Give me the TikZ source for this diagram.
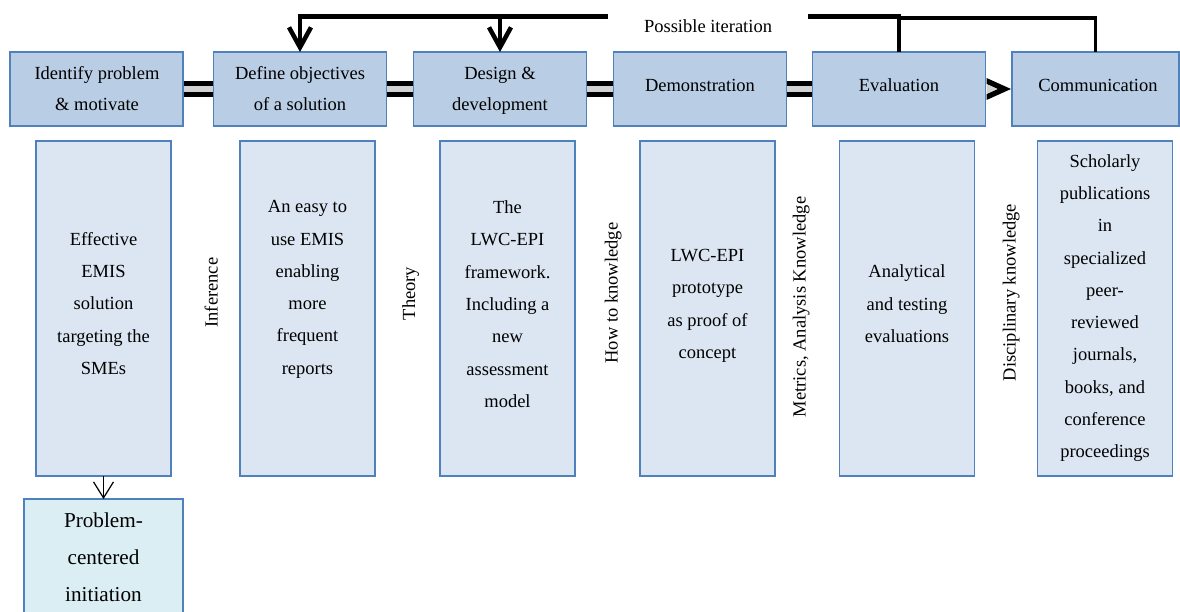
\documentclass[tikz,border=0pt]{standalone}
\usepackage{fontspec}
\setmainfont{Liberation Serif}
\usetikzlibrary{arrows.meta,calc}
\definecolor{edgeblue}{HTML}{4F81BD}
\definecolor{stagefill}{HTML}{B9CDE5}
\definecolor{outfill}{HTML}{DCE6F2}
\definecolor{startfill}{HTML}{DBEEF4}
\definecolor{railgray}{HTML}{D2D2D2}

\begin{document}
\begin{tikzpicture}[x=1pt,y=-1pt,
  stage/.style={draw=edgeblue, line width=1.8pt, fill=stagefill, minimum width=173pt,
    minimum height=74pt, inner sep=0pt, outer sep=0pt},
  outbox/.style={draw=edgeblue, line width=1.8pt, fill=outfill, minimum width=135pt,
    minimum height=335pt, inner sep=0pt, outer sep=0pt},
  entrybox/.style={draw=edgeblue, line width=1.8pt, fill=startfill, minimum width=159pt,
    minimum height=130pt, inner sep=0pt, outer sep=0pt},
  stagetext/.style={font=\fontsize{18.5}{31}\selectfont, align=center, inner sep=0pt},
  outtext/.style={font=\fontsize{18.5}{32.3}\selectfont, align=center, inner sep=0pt},
  entrytext/.style={font=\fontsize{21.2}{37}\selectfont, align=center, inner sep=0pt},
  sidetext/.style={font=\fontsize{18.5}{22}\selectfont, rotate=90, inner sep=0pt, anchor=base},
  rail/.style={draw=black, line width=5pt, double=railgray, double distance=6.3pt},
  iterthick/.style={draw=black, line width=4.5pt},
  iterthin/.style={draw=black, line width=3.5pt},
  iterarrow/.style={iterthick, -{Straight Barb[length=20pt,width=22pt]}},
  feed/.style={draw=black, line width=1.2pt, -{Straight Barb[length=16pt,width=20pt]}},
]
\useasboundingbox (0,0) rectangle (1180,612);
\clip (0,0) rectangle (1180,612);

% process stages
\node[stage] (t1) at (96.5,89) {};
\node[stage] (t2) at (300,89) {};
\node[stage] (t3) at (500,89) {};
\node[stage] (t4) at (700,89) {};
\node[stage] (t5) at (899,89) {};
\node[stage, minimum width=167pt] (t6) at (1095.5,89) {};

\node[stagetext] (t1l) at (97,88.8) {\strut Identify problem\\\& motivate\strut};
\node[stagetext] (t2l) at (300,88.8) {\strut Define objectives\\of a solution\strut};
\node[stagetext] (t3l) at (500,88.8) {\strut Design \&\\development\strut};
\node[stagetext] (t4l) at (700,85) {\strut Demonstration\strut};
\node[stagetext] (t5l) at (899,85) {\strut Evaluation\strut};
\node[stagetext] (t6l) at (1098,85) {\strut Communication\strut};

% links between the stages
\draw[rail, shorten <=0.9pt, shorten >=0.9pt] (t1.east) -- (t2.west);
\draw[rail, shorten <=0.9pt, shorten >=0.9pt] (t2.east) -- (t3.west);
\draw[rail, shorten <=0.9pt, shorten >=0.9pt] (t3.east) -- (t4.west);
\draw[rail, shorten <=0.9pt, shorten >=0.9pt] (t4.east) -- (t5.west);
\fill[black] ($(t5.east)+(1,-11)$) -- ($(t6.west)+(-1,0)$) -- ($(t5.east)+(1,11)$)
  -- ($(t5.east)+(1,5)$) -- ($(t5.east)+(12,0)$) -- ($(t5.east)+(1,-5)$) -- cycle;
\fill[railgray] ($(t5.east)+(1,-5)$) -- ($(t5.east)+(12,0)$) -- ($(t5.east)+(1,5)$) -- cycle;

% outputs of each stage
\node[outbox] (b1) at (103.5,308.5) {};
\node[outbox] (b2) at (307.5,308.5) {};
\node[outbox] (b3) at (507.5,308.5) {};
\node[outbox] (b4) at (707.5,308.5) {};
\node[outbox] (b5) at (907,308.5) {};
\node[outbox] (b6) at (1105,308.5) {};

\node[outtext] (b1l) at (103.5,303.5) {\strut Effective\\EMIS\\solution\\targeting the\\SMEs\strut};
\node[outtext] (b2l) at (307.5,287) {\strut An easy to\\use EMIS\\enabling\\more\\frequent\\reports\strut};
\node[outtext] (b3l) at (507.5,304) {\strut The\\LWC-EPI\\framework.\\Including a\\new\\assessment\\model\strut};
\node[outtext] (b4l) at (707.5,303.4) {\strut LWC-EPI\\prototype\\as proof of\\concept\strut};
\node[outtext] (b5l) at (907,303.7) {\strut Analytical\\and testing\\evaluations\strut};
\node[outtext] (b6l) at (1105,306) {\strut Scholarly\\publications\\in\\specialized\\peer-\\reviewed\\journals,\\books, and\\conference\\proceedings\strut};

% kinds of knowledge between the outputs
\node[sidetext] (k1) at (217.6,292.5) {Inference};
\node[sidetext] (k2) at (415.2,293.5) {Theory};
\node[sidetext] (k3) at (617.6,293) {How to knowledge};
\node[sidetext] (k4) at (805.6,307) {Metrics, Analysis Knowledge};
\node[sidetext] (k5) at (1015.6,292.5) {Disciplinary knowledge};

% entry point
\node[entrybox] (p) at (103.5,564) {};
\node[entrytext] (pl) at (103.5,557.1) {\strut Problem-\\centered\\initiation\strut};
\draw[feed] (b1.south) -- (p.north);

% iteration loop
\coordinate (itL) at (608,16.5);
\coordinate (itR) at (808,16.5);
\coordinate (itT) at (900,18);
\node[font=\fontsize{18.5}{22}\selectfont, inner sep=0pt, anchor=base] (itlabel) at (708,32.5) {Possible iteration};
\draw[iterarrow] (itL) -| (t2.north);
\draw[iterarrow] (t3.north |- itL) -- (t3.north);
\draw[iterthick] (itR) -- ($(t5.north |- itR)+(1.75,0)$);
\draw[iterthin] (t5.north) -- ($(t5.north |- itR)+(0,-2)$);
\draw[iterthin] (t6.north) |- (t5.north |- itT);
\end{tikzpicture}
\end{document}
